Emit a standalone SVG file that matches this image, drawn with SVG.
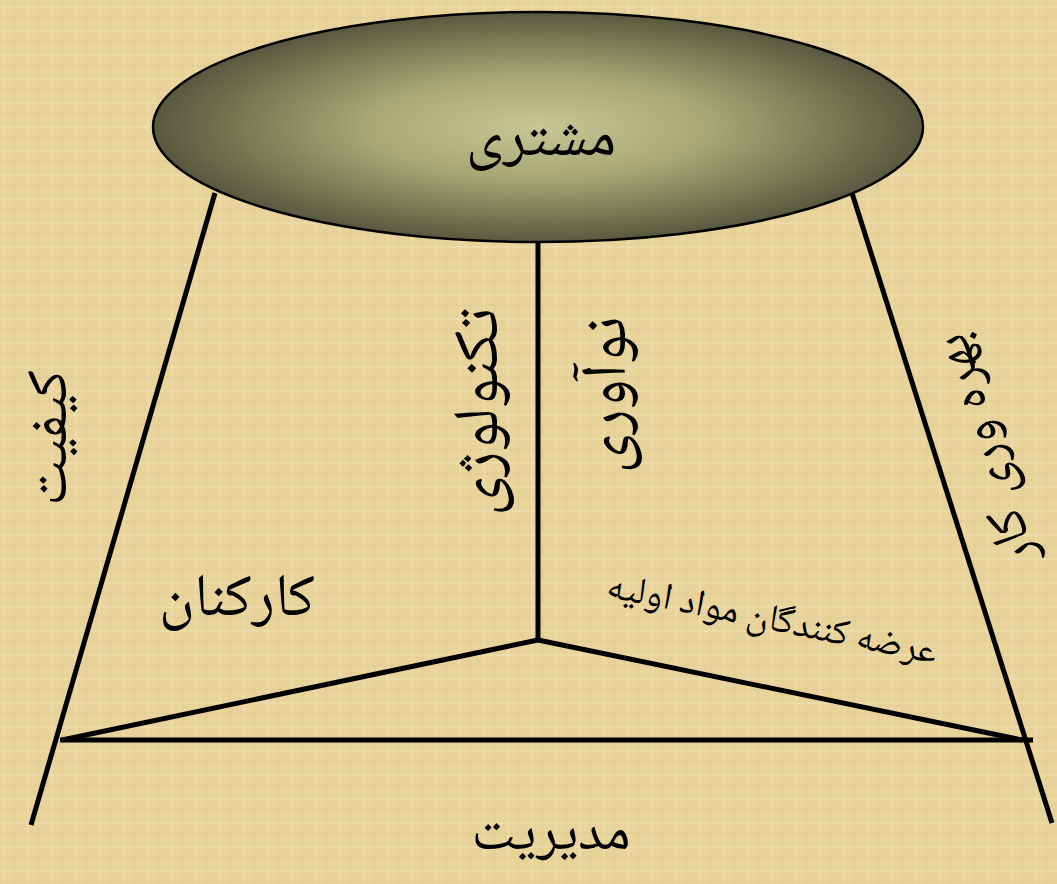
<svg xmlns="http://www.w3.org/2000/svg" width="1057" height="884" viewBox="0 0 1057 884">
<defs>
<pattern id="pap" width="24" height="24" patternUnits="userSpaceOnUse">
<rect width="24" height="24" fill="#e8d49b"/>
<rect x="3" y="0" width="2" height="24" fill="#efdfae" opacity="0.6"/>
<rect x="14" y="0" width="1" height="24" fill="#d9c28a" opacity="0.5"/>
<rect x="0" y="6" width="24" height="2" fill="#f0e2b4" opacity="0.5"/>
<rect x="0" y="17" width="24" height="1" fill="#d8c288" opacity="0.4"/>
</pattern>
<radialGradient id="eg" cx="0.5" cy="0.5" r="0.5">
<stop offset="0" stop-color="#c6c794"/>
<stop offset="0.45" stop-color="#a6a775"/>
<stop offset="1" stop-color="#58583f"/>
</radialGradient>
<style>
.ln{stroke:#000;stroke-width:5;fill:none;stroke-linecap:butt}
.t{font-family:"Noto Naskh Arabic","DejaVu Sans",serif;fill:#000;text-anchor:middle}
</style>
</defs>
<rect width="1057" height="884" fill="url(#pap)"/>
<g id="connectors">
<line class="ln" x1="215" y1="193" x2="31" y2="825"/>
<line class="ln" x1="852" y1="193" x2="1052" y2="823"/>
<line class="ln" x1="538" y1="243" x2="538" y2="641"/>
<line class="ln" x1="538" y1="640" x2="62" y2="740"/>
<line class="ln" x1="538" y1="640" x2="1022" y2="740"/>
<line class="ln" x1="60" y1="740" x2="1033" y2="740"/>
</g>
<g id="customer">
<ellipse cx="538" cy="127" rx="385" ry="115" fill="url(#eg)" stroke="#000" stroke-width="2.5"/>
<text class="t" x="541" y="155" font-size="60">مشتری</text>
</g>
<g id="quality"><text class="t" transform="translate(66,438) rotate(-90)" font-size="58">کیفیت</text></g>
<g id="technology"><text class="t" transform="translate(497,412) rotate(-90)" font-size="64">تکنولوژی</text></g>
<g id="innovation"><text class="t" transform="translate(625,395) rotate(-90)" font-size="64">نوآوری</text></g>
<g id="productivity"><text class="t" transform="translate(1000,445) rotate(-107.5)" font-size="54">بهره وری کار</text></g>
<g id="staff"><text class="t" x="237" y="615" font-size="60">کارکنان</text></g>
<g id="suppliers"><text class="t" transform="translate(770,630) rotate(11.5)" font-size="38">عرضه کنندگان مواد اولیه</text></g>
<g id="management"><text class="t" x="551" y="849" font-size="56">مدیریت</text></g>
</svg>
